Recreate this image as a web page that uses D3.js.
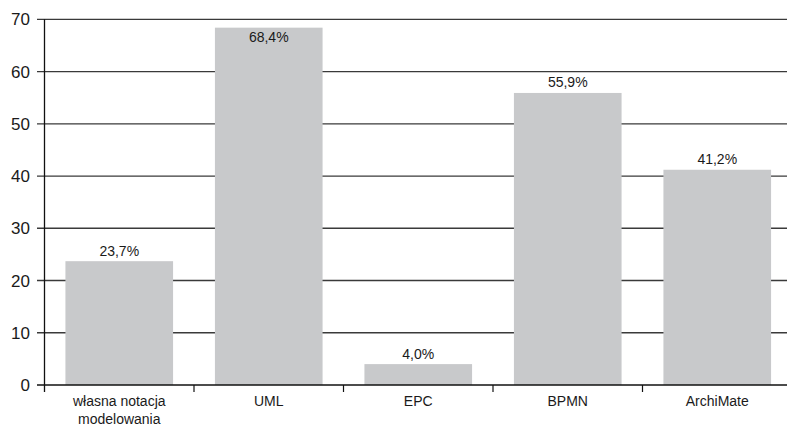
<!DOCTYPE html>
<html>
<head>
<meta charset="utf-8">
<script src="https://cdn.jsdelivr.net/npm/d3@7/dist/d3.min.js"></script>
<style>
  html, body { margin: 0; padding: 0; background: #fff; }
  svg { display: block; }
  text { font-family: "Liberation Sans", Arial, Helvetica, sans-serif; fill: #1a1a1a; }
</style>
</head>
<body>
<div id="chart"></div>
<script>
// Notations used for modelling (share of respondents, %)
const categories = [["własna notacja", "modelowania"], ["UML"], ["EPC"], ["BPMN"], ["ArchiMate"]];
const values = [23.7, 68.4, 4.0, 55.9, 41.2];
const valueLabels = ["23,7%", "68,4%", "4,0%", "55,9%", "41,2%"];
const yTicks = [0, 10, 20, 30, 40, 50, 60, 70];

const W = 787, H = 426;
const plotLeft = 44.5, plotRight = 792, plotTop = 19.3, plotBottom = 385;

const svg = d3.select("#chart").append("svg")
  .attr("width", W).attr("height", H);

const keys = categories.map((c, i) => i);
const x = d3.scaleBand().domain(keys).range([plotLeft, plotRight])
  .paddingInner(0.28).paddingOuter(0.14);
const y = d3.scaleLinear().domain([0, 70]).range([plotBottom, plotTop]);

// horizontal gridlines with left-hand ticks
svg.append("g").selectAll("line").data(yTicks.filter(d => d > 0)).join("line")
  .attr("x1", 37).attr("x2", W)
  .attr("y1", d => y(d)).attr("y2", d => y(d))
  .attr("stroke", "#3a3a3a").attr("stroke-width", 1.3);

// y tick labels
svg.append("g").selectAll("text").data(yTicks).join("text")
  .attr("x", 30).attr("y", d => y(d))
  .attr("dy", "0.36em")
  .attr("text-anchor", "end")
  .attr("font-size", 17)
  .text(d => d);

// bars
svg.append("g").selectAll("rect").data(values).join("rect")
  .attr("x", (d, i) => x(i))
  .attr("width", x.bandwidth())
  .attr("y", d => y(d))
  .attr("height", d => plotBottom - y(d))
  .attr("fill", "#c8c9cb");

// value labels: above the bar, or just inside when the bar reaches the top
svg.append("g").selectAll("text").data(values).join("text")
  .attr("x", (d, i) => x(i) + x.bandwidth() / 2)
  .attr("y", d => y(d) > plotTop + 20 ? y(d) - 5.5 : y(d) + 14.5)
  .attr("text-anchor", "middle")
  .attr("font-size", 14)
  .text((d, i) => valueLabels[i]);

// x axis baseline and zero tick
svg.append("line")
  .attr("x1", 37).attr("x2", W).attr("y1", plotBottom).attr("y2", plotBottom)
  .attr("stroke", "#111").attr("stroke-width", 1.4);

// y axis line
svg.append("line")
  .attr("x1", plotLeft).attr("x2", plotLeft).attr("y1", plotTop).attr("y2", plotBottom + 7)
  .attr("stroke", "#111").attr("stroke-width", 1.3);

// category separators below the axis
const step = x.step();
svg.append("g").selectAll("line").data(d3.range(1, categories.length + 1)).join("line")
  .attr("x1", k => plotLeft + k * step).attr("x2", k => plotLeft + k * step)
  .attr("y1", plotBottom).attr("y2", plotBottom + 7)
  .attr("stroke", "#111").attr("stroke-width", 1.2);

// category labels (multi-line)
const cat = svg.append("g").selectAll("text").data(categories).join("text")
  .attr("x", (d, i) => x(i) + x.bandwidth() / 2)
  .attr("y", 406)
  .attr("text-anchor", "middle")
  .attr("font-size", 14);
cat.selectAll("tspan").data(d => d).join("tspan")
  .attr("x", function () { return d3.select(this.parentNode).attr("x"); })
  .attr("dy", (d, j) => j === 0 ? 0 : 17.5)
  .text(d => d);
</script>
</body>
</html>
